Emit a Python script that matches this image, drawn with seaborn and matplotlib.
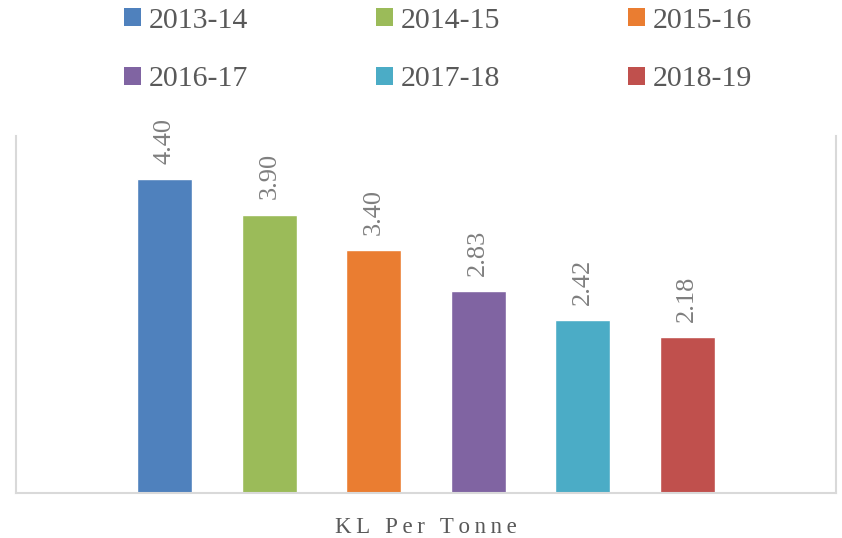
import matplotlib
matplotlib.use("Agg")
import matplotlib.pyplot as plt
from matplotlib.patches import Patch
import seaborn as sns
import pandas as pd

# Water consumption intensity per financial year
years = ["2013-14", "2014-15", "2015-16", "2016-17", "2017-18", "2018-19"]
values = [4.40, 3.90, 3.40, 2.83, 2.42, 2.18]
category = ["KL Per Tonne"]
colors = ["#4F81BD", "#9BBB59", "#EA7D31", "#8064A2", "#4BACC6", "#C0504D"]

df = pd.DataFrame({
    "metric": category * len(years),
    "year": years,
    "value": values,
})

sns.set_theme(style="white")
plt.rcParams["font.family"] = ["Liberation Serif", "DejaVu Serif"]

fig = plt.figure(figsize=(8.42, 5.38), dpi=100)
ax = fig.add_axes([16 / 842, 1 - 493 / 538, 820 / 842, 357 / 538])

sns.barplot(data=df, x="metric", y="value", hue="year", palette=colors,
            width=0.8, gap=0.474, legend=False, ax=ax, saturation=1)

ax.set_ylim(0, 5)
ax.set_xlim(-0.523, 0.523)
ax.set_yticks([])
ax.set_ylabel("")
ax.set_xlabel("")

# value labels, rotated above each bar
for cont in ax.containers:
    ax.bar_label(cont, fmt="%.2f", rotation=90, padding=11, fontsize=19,
                 color="#7F7F7F")

# letter-spaced category label
spaced = "\u2009".join(category[0])
ax.set_xticks([0])
ax.set_xticklabels([spaced], fontsize=16.5, color="#595959")
ax.tick_params(axis="x", length=0, pad=17)

for side in ["left", "right", "bottom"]:
    ax.spines[side].set_visible(True)
    ax.spines[side].set_color("#D9D9D9")
    ax.spines[side].set_linewidth(1.5)
ax.spines["top"].set_visible(False)

# legend laid out row by row (matplotlib fills columns first)
ncol = 3
order = [r * ncol + c for c in range(ncol) for r in range(len(years) // ncol)]
handles = [Patch(facecolor=colors[i], edgecolor="none") for i in order]
labels = [years[i] for i in order]
fig.legend(handles, labels, ncol=ncol, loc="center",
           bbox_to_anchor=(438 / 842, 1 - 50 / 538), frameon=False,
           fontsize=21.5, labelcolor="#595959",
           handlelength=0.57, handleheight=0.57, handletextpad=0.25,
           columnspacing=4.3, labelspacing=1.1)

fig.savefig("out.png", dpi=100)
